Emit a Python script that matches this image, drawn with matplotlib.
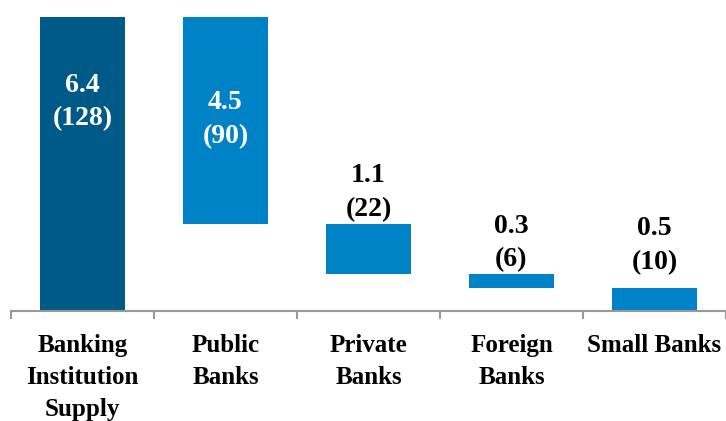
import matplotlib
matplotlib.use("Agg")
import matplotlib.pyplot as plt

categories = ["Banking\nInstitution\nSupply", "Public\nBanks", "Private\nBanks", "Foreign\nBanks", "Small Banks"]
values = [6.4, 4.5, 1.1, 0.3, 0.5]
counts = [128, 90, 22, 6, 10]

dark = "#005A87"
light = "#0083C6"

fig = plt.figure(figsize=(7.26, 4.21), dpi=100)
W, H = 726, 421
ax = fig.add_axes([11 / W, (H - 311) / H, 715 / W, 294 / H])

total = values[0]
bottoms = [0.0]
running = total
for v in values[1:]:
    running -= v
    bottoms.append(running)

colors = [dark] + [light] * (len(values) - 1)
x = list(range(len(values)))
ax.bar(x, values, bottom=bottoms, width=85 / 143, color=colors, edgecolor="none")

ax.set_xlim(-0.5, len(values) - 0.5)
ax.set_ylim(0, total)

font = dict(family="Liberation Serif", fontweight="bold")
for i, (v, c, b) in enumerate(zip(values, counts, bottoms)):
    label = f"{v:.1f}\n({c})"
    if i == 0:
        ax.text(i, b + v - 1.85, label, ha="center", va="center", color="white",
                fontsize=20, linespacing=1.45, **font)
    elif i == 1:
        ax.text(i, b + v / 2 + 0.02, label, ha="center", va="center", color="white",
                fontsize=20, linespacing=1.45, **font)
    else:
        off = 13 if i == len(values) - 1 else 2
        ax.annotate(label, (i, b + v), xytext=(0, off), textcoords="offset pixels",
                    ha="center", va="bottom", color="black", fontsize=20,
                    linespacing=1.45, annotation_clip=False, **font)

for s in ["top", "right", "left"]:
    ax.spines[s].set_visible(False)
ax.spines["bottom"].set_color("#999999")
ax.spines["bottom"].set_linewidth(1.5)
ax.set_yticks([])
ax.set_xticks([i - 0.5 for i in range(len(values) + 1)], minor=False)
ax.set_xticklabels([])
ax.tick_params(axis="x", length=6, width=1.5, color="#999999", direction="out")
for i, cat in enumerate(categories):
    ax.text(i, -0.5, cat, ha="center", va="top", fontsize=18, linespacing=1.5,
            color="black", transform=ax.transData, **font)

fig.savefig("out.png", dpi=100)
